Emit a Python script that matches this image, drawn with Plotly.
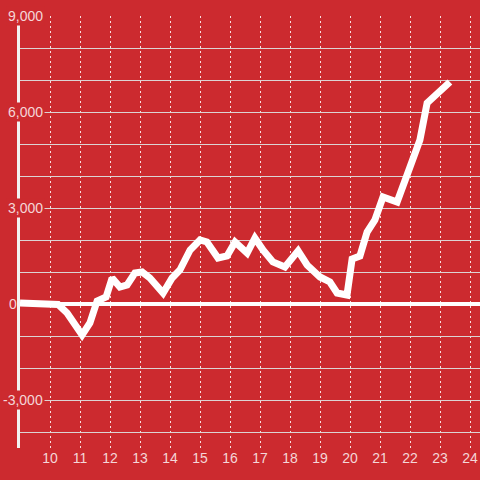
import plotly.graph_objects as go

# Data
x_vals = [9.0, 9.5, 10.27, 10.57, 11.07, 11.33, 11.57, 11.87, 12.07, 12.33, 12.57, 12.83,
          13.07, 13.33, 13.77, 14.07, 14.33, 14.67, 15.0, 15.23, 15.6, 15.9, 16.17, 16.57,
          16.83, 17.1, 17.43, 17.83, 18.27, 18.57, 19.0, 19.33, 19.57, 19.9, 20.07, 20.33,
          20.57, 20.83, 21.1, 21.57, 21.77, 22.0, 22.33, 22.57, 23.33]
y_vals = [31, 31, -16, -281, -969, -594, 94, 219, 813, 531, 594, 969,
          1000, 813, 344, 813, 1063, 1688, 2000, 1938, 1438, 1500, 1938, 1594,
          2063, 1688, 1313, 1156, 1660, 1219, 844, 688, 344, 281, 1406, 1500,
          2250, 2625, 3344, 3188, 3656, 4281, 5125, 6281, 6938]

x_ticks = list(range(10, 25))
x_tick_labels = [str(v) for v in x_ticks]
y_label_vals = [-3000, 0, 3000, 6000, 9000]
y_label_text = ["-3,000", "0", "3,000", "6,000", "9,000"]

BG = "#CC2A2F"
LABEL = "rgba(255,255,255,0.82)"
FONT = "Liberation Sans, Arial, sans-serif"

fig = go.Figure()
fig.add_trace(go.Scatter(
    x=x_vals, y=y_vals, mode="lines",
    line=dict(color="white", width=7),
    hoverinfo="skip",
))

annotations = []
for v, t in zip(y_label_vals, y_label_text):
    if t == "0":
        annotations.append(dict(x=0, xref="paper", y=v, yref="y", text=t,
                                showarrow=False, xanchor="left", xshift=-13,
                                font=dict(family=FONT, size=14, color=LABEL),
                                borderpad=1))
    else:
        annotations.append(dict(x=0, xref="paper", y=v, yref="y", text=t,
                                showarrow=False, xanchor="right", xshift=25,
                                bgcolor=BG, borderpad=1,
                                font=dict(family=FONT, size=14, color=LABEL)))

fig.update_layout(
    width=480, height=480, autosize=False,
    margin=dict(l=20, r=0, t=16, b=32, autoexpand=False),
    paper_bgcolor=BG, plot_bgcolor=BG,
    showlegend=False,
    hovermode=False,
    annotations=annotations,
    xaxis=dict(
        range=[9, 24.3333], tickmode="array", tickvals=x_ticks, ticktext=x_tick_labels,
        showgrid=True, gridcolor="rgba(255,255,255,0.85)", griddash="2px,3px", gridwidth=1,
        zeroline=False, showline=False, ticks="",
        tickfont=dict(family=FONT, size=14, color=LABEL),
        automargin=False,
    ),
    yaxis=dict(
        range=[-4500, 9000], tick0=0, dtick=1000,
        showgrid=True, gridcolor="rgba(220,220,220,0.95)", gridwidth=1,
        showticklabels=False, ticks="", automargin=False,
        showline=True, linecolor="#F2F2F2", linewidth=3,
        zeroline=True, zerolinecolor="white", zerolinewidth=4,
    ),
)

fig.write_html(
    "out.html",
    config={"responsive": False, "displayModeBar": False, "staticPlot": True},
    post_script="document.body.style.margin='0';document.body.style.background='#CC2A2F';",
)
